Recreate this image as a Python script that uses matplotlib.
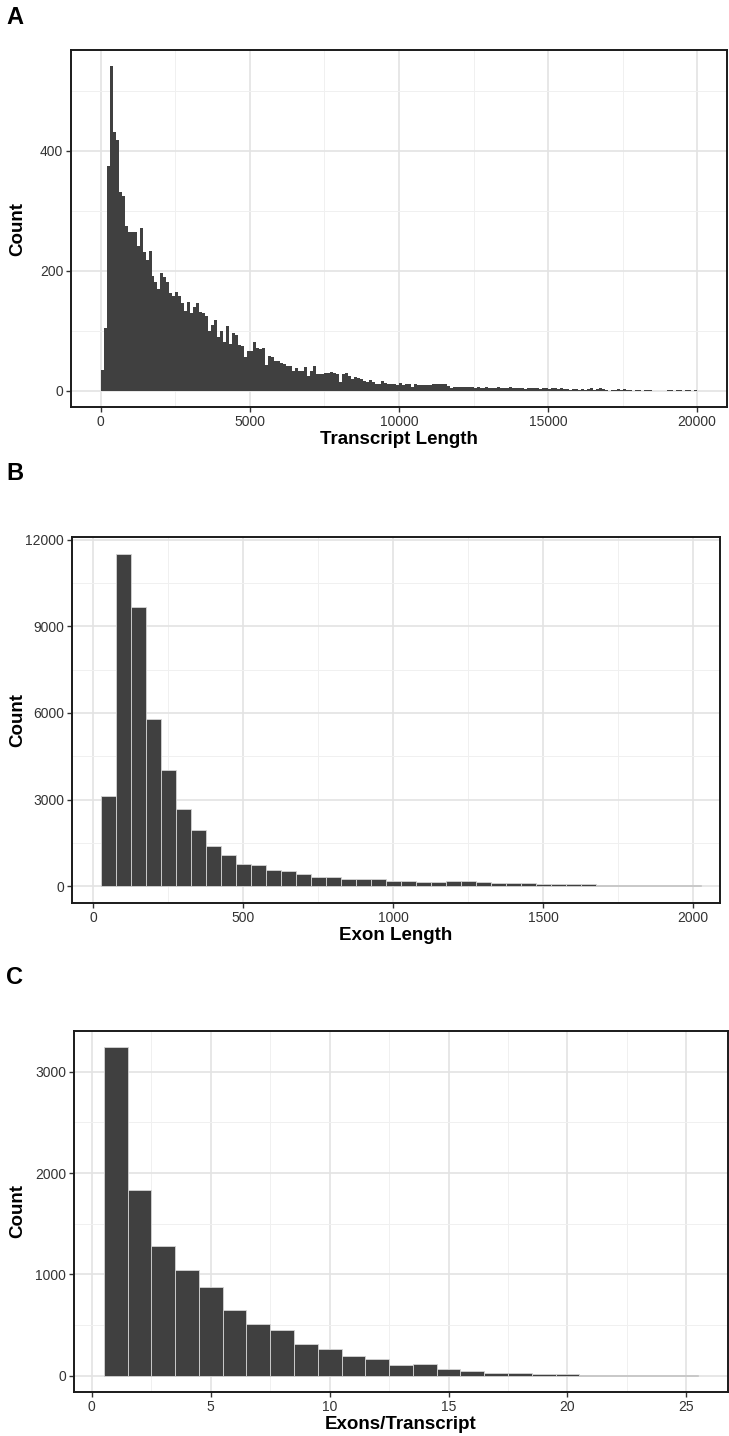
import numpy as np
import matplotlib.pyplot as plt
from matplotlib.ticker import MultipleLocator

plt.rcParams['font.family'] = ['Liberation Sans', 'DejaVu Sans']

# ============================================================
# DATA
# ============================================================

# A: transcript length, bins of 100 starting at 0
transcript_bin_width = 100
transcript_counts = [
    35, 104, 375, 541, 431, 418, 331, 325, 275, 264, 264, 264, 242, 272, 231, 218,
    233, 192, 181, 169, 196, 189, 181, 163, 158, 165, 158, 147, 133, 148, 129, 140,
    147, 131, 129, 125, 100, 110, 118, 89, 100, 81, 108, 78, 97, 93, 77, 74,
    56, 67, 67, 82, 72, 69, 72, 43, 58, 56, 50, 50, 46, 45, 41, 41, 33, 38,
    33, 33, 40, 25, 33, 41, 28, 28, 28, 29, 30, 31, 30, 28, 15, 28, 30, 25, 19, 23,
    21, 19, 17, 14, 18, 14, 12, 12, 17, 13, 11, 11, 12, 10, 13, 10, 12, 12, 7,
    12, 9, 9, 10, 10, 10, 12, 12, 12, 12, 11, 8, 4, 7, 6, 7, 7, 6, 7, 6,
    5, 6, 5, 4, 6, 5, 5, 4, 6, 5, 4, 5, 6, 4, 5, 4, 5, 3, 4, 5, 4, 4, 3, 5, 4, 3, 4, 4, 3, 4,
    3, 3, 2, 3, 3, 2, 3, 2, 3, 4, 2, 3, 4, 3, 2,
    0, 2, 2, 3, 2, 3, 2, 2, 0, 2, 2, 0, 2, 1, 1,
    0, 0, 0, 0, 0, 1, 2, 0, 1, 2, 0, 1, 2, 0, 2,
]

# B: exon length, bins of 50 centred on 50, 100, ..., 2000
exon_bin_width = 50
exon_centers = np.arange(50, 2001, 50)
exon_counts = [
    3120, 11515, 9660, 5800, 4020, 2690, 1940, 1390, 1090, 790,
    750, 580, 530, 420, 325, 310, 254, 254, 266, 173,
    196, 162, 162, 185, 173, 145, 120, 100, 127, 98,
    65, 92, 92, 46, 58, 58, 58, 35, 35, 35,
]

# C: exons per transcript
exons_per_transcript = np.arange(1, 26)
exons_counts = [
    3241, 1830, 1283, 1039, 873, 650, 511, 455, 313, 260,
    195, 165, 102, 115, 69, 46, 23, 23, 16, 16, 10, 10, 8, 6, 6,
]

bar_color = "#404040"
W, H = 729, 1436


def axes_at(left, top, right, bottom):
    """Add axes given pixel edges of the panel frame."""
    ax = fig.add_axes([left / W, 1 - bottom / H, (right - left) / W, (bottom - top) / H])
    # y label sits at x = 18 px in the figure
    ax.yaxis.set_label_coords((18 - left) / (right - left), 0.5)
    return ax


def style_axes(ax, xmajor, ymajor, xlabel):
    ax.xaxis.set_major_locator(MultipleLocator(xmajor))
    ax.xaxis.set_minor_locator(MultipleLocator(xmajor / 2))
    ax.yaxis.set_major_locator(MultipleLocator(ymajor))
    ax.yaxis.set_minor_locator(MultipleLocator(ymajor / 2))
    ax.set_axisbelow(True)
    ax.grid(True, which="major", color="#e3e3e3", linewidth=1.2)
    ax.grid(True, which="minor", color="#f0f0f0", linewidth=0.7)
    ax.tick_params(which="major", length=3.5, width=1.0, color="#333333",
                   labelsize=10, labelcolor="#333333", pad=2)
    ax.tick_params(which="minor", length=0)
    for spine in ax.spines.values():
        spine.set_color("#1a1a1a")
        spine.set_linewidth(1.4)
    ax.set_xlabel(xlabel, fontsize=13.5, fontweight="bold", labelpad=2)
    ax.set_ylabel("Count", fontsize=13.5, fontweight="bold", va="center")


fig = plt.figure(figsize=(W / 100, H / 100), dpi=100)

# ============================================================
# PANEL A
# ============================================================
ax_a = axes_at(71, 50, 727, 407)
edges = np.arange(len(transcript_counts)) * transcript_bin_width
ax_a.bar(edges, transcript_counts, width=transcript_bin_width, align="edge",
         color=bar_color, linewidth=0)
ax_a.set_xlim(-1000, 21000)
ax_a.set_ylim(-27, 568)
style_axes(ax_a, 5000, 200, "Transcript Length")

# ============================================================
# PANEL B
# ============================================================
ax_b = axes_at(71.7, 537, 720, 903)
ax_b.bar(exon_centers, exon_counts, width=exon_bin_width,
         color=bar_color, edgecolor="#d4d4d4", linewidth=0.6)
ax_b.set_xlim(-72, 2089)
ax_b.set_ylim(-576, 12091)
style_axes(ax_b, 500, 3000, "Exon Length")

# ============================================================
# PANEL C
# ============================================================
ax_c = axes_at(74, 1031, 728, 1392)
ax_c.bar(exons_per_transcript, exons_counts, width=1,
         color=bar_color, edgecolor="#d4d4d4", linewidth=0.6)
ax_c.set_xlim(-0.75, 26.75)
ax_c.set_ylim(-162, 3403)
style_axes(ax_c, 5, 1000, "Exons/Transcript")

# PANEL LETTERS
for letter, ypix in [("A", 18), ("B", 473), ("C", 977)]:
    fig.text(6 / W, 1 - ypix / H, letter, fontsize=17, fontweight="bold", va="center")

fig.savefig("out.png", dpi=100)
